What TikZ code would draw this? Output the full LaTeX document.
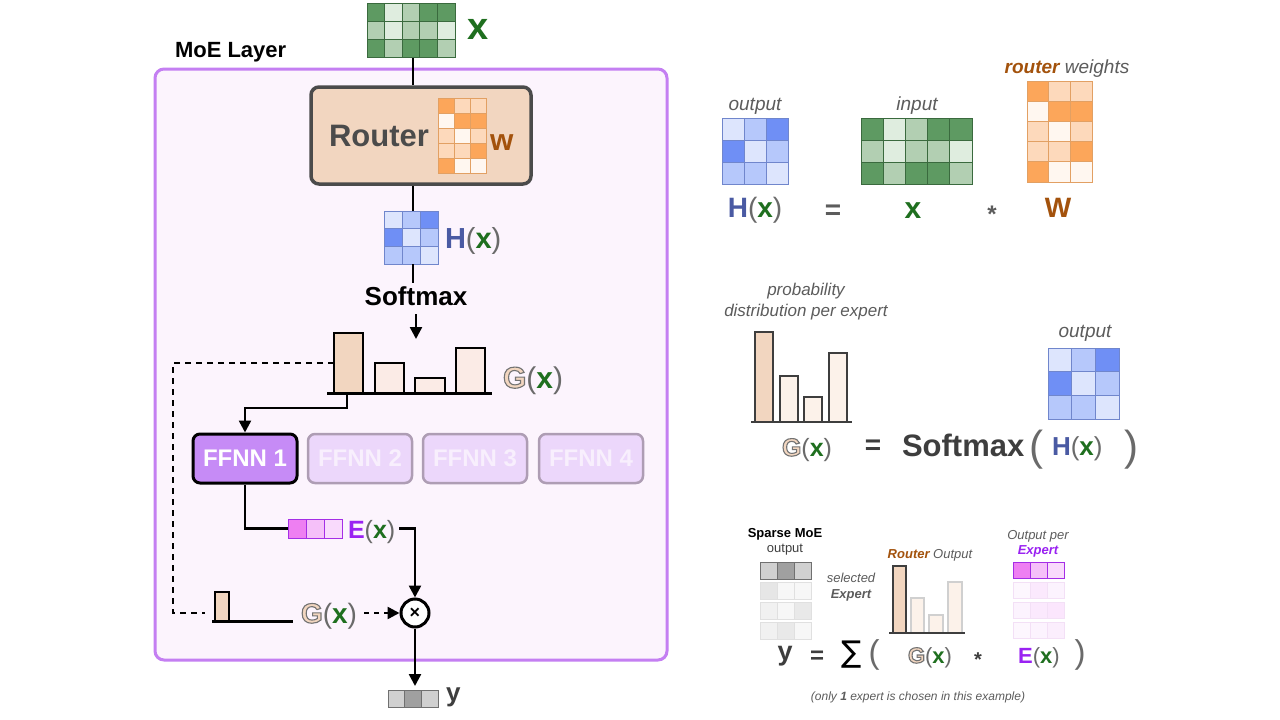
\documentclass[tikz,border=0pt]{standalone}
\usepackage{fontspec}
\setmainfont{Liberation Sans}
\newfontfamily\dejavu{DejaVu Sans}
\usetikzlibrary{arrows.meta}
\definecolor{gD}{HTML}{5E9A62}\definecolor{gM}{HTML}{B2CFB2}\definecolor{gL}{HTML}{DFEDDF}\definecolor{gB}{HTML}{3A6A3E}
\definecolor{oD}{HTML}{FCA65A}\definecolor{oM}{HTML}{FDD9BB}\definecolor{oL}{HTML}{FFF7F0}\definecolor{oB}{HTML}{E2A063}
\definecolor{bD}{HTML}{6F8FF5}\definecolor{bM}{HTML}{B6C8FB}\definecolor{bL}{HTML}{DDE5FD}\definecolor{bB}{HTML}{7086CC}
\definecolor{eD}{HTML}{EE7FF2}\definecolor{eM}{HTML}{F5C0F9}\definecolor{eL}{HTML}{F9DAFC}\definecolor{eB}{HTML}{A52EE6}
\definecolor{e1}{HTML}{FDF7FE}\definecolor{e2}{HTML}{FBE9FD}\definecolor{e3}{HTML}{FCF3FE}\definecolor{e4}{HTML}{FBE6FD}\definecolor{e5}{HTML}{FBEEFD}\definecolor{eF}{HTML}{F3E0F6}
\definecolor{yD}{HTML}{A0A0A0}\definecolor{yM}{HTML}{D0D0D0}\definecolor{yB}{HTML}{707070}
\definecolor{y1}{HTML}{E6E6E6}\definecolor{y2}{HTML}{F7F7F7}\definecolor{y3}{HTML}{F1F1F1}\definecolor{y4}{HTML}{E9E9E9}\definecolor{yF}{HTML}{E0E0E0}
\definecolor{peach}{HTML}{F2D6C0}\definecolor{barL}{HTML}{FBEBE6}\definecolor{barR}{HTML}{FCF2EA}
\definecolor{frameP}{HTML}{C47FF2}\definecolor{frameF}{HTML}{FCF4FD}
\definecolor{ffOn}{HTML}{C68BF6}\definecolor{ffOff}{HTML}{ECD7FB}\definecolor{ffOffB}{HTML}{AE9DB4}\definecolor{ffOffT}{HTML}{F8EFFD}
\definecolor{xgreen}{HTML}{1F6F1F}\definecolor{wbrown}{HTML}{A3520C}\definecolor{hblue}{HTML}{4A5AA3}\definecolor{epurple}{HTML}{9A22F2}
\definecolor{tgray}{HTML}{5C5C5C}\definecolor{pgray}{HTML}{6A6A6A}\definecolor{dgray}{HTML}{3E3E3E}\definecolor{rgray}{HTML}{4B4B4B}
\newcommand\fs[1]{\fontsize{#1}{#1}\selectfont}
\newcommand\gG{\textcolor{peach}{\special{pdf:literal direct 0.45 0.45 0.45 RG 1.1 w 2 Tr}\bfseries G\special{pdf:literal direct 0 Tr}}}
\newcommand\pl{\textcolor{pgray}{(}}
\newcommand\pr{\textcolor{pgray}{)}}
\newcommand\xx{\textcolor{xgreen}{\bfseries x}}
\newcommand\Hx{\textcolor{hblue}{\bfseries H}\pl\xx\pr}
\newcommand\Gx{\gG\pl\xx\pr}
\newcommand\Ex{\textcolor{epurple}{\bfseries E}\pl\xx\pr}
% grid: x, y, cell w, cell h, ncols, border, list
\newcommand\mygrid[7]{%
  \foreach \cc [count=\ii from 0] in {#7} {%
    \pgfmathtruncatemacro\gc{mod(\ii,#5)}%
    \pgfmathtruncatemacro\gr{div(\ii,#5)}%
    \filldraw[fill=\cc, draw=#6, line width=1pt] ({#1+\gc*#3},{#2+\gr*#4}) rectangle ++(#3,#4);
  }}
\begin{document}
\begin{tikzpicture}[x=1pt,y=-1pt,
  conn/.style={line width=2.5pt, draw=black},
  arr/.style={conn, -{Triangle[length=12pt,width=12pt]}},
  mbox/.style={inner sep=0pt, outer sep=0pt, anchor=north west},
  bar/.style={draw=black, line width=2pt, inner sep=0pt, outer sep=0pt, anchor=south west},
  barthin/.style={draw=dgray, line width=1.5pt, inner sep=0pt, outer sep=0pt, anchor=south west},
  lbl/.style={inner sep=0pt, outer sep=0pt},
  ital/.style={lbl, text=tgray, font=\itshape\fs{19}},
  ffon/.style={draw=black, fill=ffOn, line width=3pt, rounded corners=7pt, minimum width=104pt, minimum height=49pt, text=white, font=\bfseries\fs{24}, inner sep=0pt},
  ffoff/.style={draw=ffOffB, fill=ffOff, line width=2.5pt, rounded corners=7pt, minimum width=104pt, minimum height=49pt, text=ffOffT, font=\bfseries\fs{24}, inner sep=0pt}
]
\useasboundingbox (0,0) rectangle (1280,720);
\fill[white] (0,0) rectangle (1280,720);

% ---------- MoE layer frame ----------
\draw[draw=frameP, fill=frameF, line width=3pt, rounded corners=9pt] (155,69) rectangle (667,660);
\node[lbl, anchor=base west, font=\bfseries\fs{22}] (moe) at (175,57) {MoE Layer};

% ---------- input x ----------
\node[mbox, minimum width=88pt, minimum height=54pt] (xm) at (367,3) {};
\node[lbl, anchor=center, text=xgreen, font=\bfseries\fs{38}] (xlab) at (478,29) {x};

% ---------- router ----------
\node[draw=rgray, fill=peach, line width=3.5pt, rounded corners=8pt, minimum width=220pt, minimum height=97pt, inner sep=0pt] (router) at (421,135.5) {};
\draw[conn] (xm.south) ++(2,0) -- (router.north -| 413,0);
\mygrid{367}{3}{17.6}{18}{5}{gB}{gD,gL,gM,gD,gD,gM,gL,gM,gM,gL,gD,gM,gD,gD,gM}
\node[lbl, anchor=base west, text=rgray, font=\bfseries\fs{31}] (routerlab) at (329,146) {Router};
\node[mbox, minimum width=49pt, minimum height=75pt] (wm) at (438,98) {};
\mygrid{438}{98}{16.3}{15}{3}{oB}{oD,oM,oM,oL,oD,oD,oM,oL,oM,oM,oM,oD,oD,oL,oL}
\node[lbl, anchor=base west, text=wbrown, font=\bfseries\fs{30}] (wlab) at (490,150) {w};

% ---------- H(x) ----------
\node[mbox, minimum width=54pt, minimum height=53pt] (hm) at (384,211) {};
\draw[conn] (router.south -| 413,0) -- (hm.north -| 413,0);
\mygrid{384}{211}{18}{17.7}{3}{bB}{bL,bM,bD,bD,bL,bM,bM,bM,bL}
\node[lbl, anchor=base west, font=\fs{29}] (hxlab) at (445,248) {\Hx};
\node[inner sep=3pt, anchor=base, font=\bfseries\fs{26}] (softmax) at (416,305) {Softmax};
\draw[conn] (hm.south -| 413,0) -- (softmax.north -| 413,0);
\coordinate (gtip) at (416,339);
\draw[arr, shorten <=6pt] (softmax.south) -- (gtip);

% ---------- G(x) bars ----------
\node[bar, fill=peach, minimum width=29pt, minimum height=60pt] (b1) at (334,393) {};
\node[bar, fill=barL, minimum width=29pt, minimum height=30pt] (b2) at (375,393) {};
\node[bar, fill=barL, minimum width=30pt, minimum height=15pt] (b3) at (415,393) {};
\node[bar, fill=barL, minimum width=29pt, minimum height=45pt] (b4) at (456,393) {};
\coordinate (gbl) at (327,393); \coordinate (gbr) at (492,393);
\draw[line width=3pt] (gbl) -- (gbr);
\node[lbl, anchor=base west, font=\fs{30}] (gxlab) at (503,388) {\Gx};

% ---------- FFNN ----------
\node[ffon] (f1) at (245,458.5) {FFNN 1};
\node[ffoff] (f2) at (360,458.5) {FFNN 2};
\node[ffoff] (f3) at (475,458.5) {FFNN 3};
\node[ffoff] (f4) at (591,458.5) {FFNN 4};
\draw[arr] (b1.south -| 347,0) -- ++(0,15) -| (f1.north);

% dashed path
\coordinate (dend) at (205,613);
\draw[conn, dash pattern=on 6pt off 5pt] (b1.west) -- (173,363) |- (dend);

% ---------- E(x) ----------
\node[mbox, minimum width=55pt, minimum height=19pt] (em) at (288,519) {};
\draw[conn] (f1.south) |- (em.west);
\mygrid{288}{519}{18.3}{19}{3}{eB}{eD,eM,eL}
\node[lbl, anchor=base west, font=\fs{25}] (exlab) at (348,538) {\Ex};

% ---------- multiply ----------
\node[circle, draw=black, fill=white, line width=3pt, minimum size=28pt, inner sep=0pt, font=\bfseries\fs{18}] (mul) at (415,613) {×};
\draw[arr] (em.west -| exlab.east) ++(4,0) -| (mul.north);

% bottom bar
\node[bar, fill=peach, minimum width=14pt, minimum height=29pt] (sb) at (215,621) {};
\coordinate (sbl) at (212,621); \coordinate (sbr) at (293,621);
\draw[line width=3pt] (sbl) -- (sbr);
\node[lbl, anchor=base west, font=\fs{28}] (gx2) at (301,623) {\Gx};
\draw[conn, dash pattern=on 5pt off 5pt, -{Triangle[length=12pt,width=12pt]}] (364,613) -- (mul.west);

% ---------- output y ----------
\node[mbox, minimum width=50pt, minimum height=17pt] (ym) at (388,690) {};
\draw[arr, shorten >=4pt] (mul.south) -- (ym.north -| mul.south);
\mygrid{388}{690}{16.7}{17}{3}{yB}{yM,yD,yM}
\node[lbl, anchor=base west, text=dgray, font=\bfseries\fs{26}] (ylab) at (446,701) {y};

% ================= RIGHT TOP =================
\node[ital, anchor=base] (out1) at (755,110) {output};
\node[mbox, minimum width=67pt, minimum height=67pt] (rhm) at (722,118) {};
\mygrid{722}{118}{22.3}{22.3}{3}{bB}{bL,bM,bD,bD,bL,bM,bM,bM,bL}
\node[lbl, anchor=base, font=\fs{28}] (rhx) at (755,217) {\Hx};
\node[lbl, anchor=center, text=tgray, font=\bfseries\fs{28}] (eq1) at (833,212) {=};
\node[ital, anchor=base] (in1) at (917,110) {input};
\node[mbox, minimum width=111pt, minimum height=67pt] (rxm) at (861,118) {};
\mygrid{861}{118}{22.2}{22.3}{5}{gB}{gD,gL,gM,gD,gD,gM,gL,gM,gM,gL,gD,gM,gD,gD,gM}
\node[lbl, anchor=base, text=xgreen, font=\bfseries\fs{30}] (rxx) at (913,218) {x};
\node[lbl, anchor=center, text=tgray, font=\bfseries\fs{24}] (ast1) at (992,214) {*};
\node[lbl, anchor=base, font=\fs{19}] (rw) at (1067,73) {\textcolor{wbrown}{\bfseries\itshape router} \textcolor{tgray}{\itshape weights}};
\node[mbox, minimum width=65pt, minimum height=101pt] (rwm) at (1027,81) {};
\mygrid{1027}{81}{21.7}{20.2}{3}{oB}{oD,oM,oM,oL,oD,oD,oM,oL,oM,oM,oM,oD,oD,oL,oL}
\node[lbl, anchor=base, text=wbrown, font=\bfseries\fs{28}] (rwl) at (1058,217) {W};

% ================= RIGHT MIDDLE =================
\node[ital, anchor=base, font=\itshape\fs{17}] (prob) at (806,295) {probability};
\node[ital, anchor=base, font=\itshape\fs{17}] (dist) at (806,316) {distribution per expert};
\node[barthin, fill=peach, minimum width=18pt, minimum height=90pt] (m1) at (755,422) {};
\node[barthin, fill=barR, minimum width=18pt, minimum height=46pt] (m2) at (780,422) {};
\node[barthin, fill=barR, minimum width=18pt, minimum height=25pt] (m3) at (804,422) {};
\node[barthin, fill=barR, minimum width=18pt, minimum height=69pt] (m4) at (829,422) {};
\coordinate (mbl) at (751,422); \coordinate (mbr) at (852,422);
\draw[line width=2pt, dgray] (mbl) -- (mbr);
\node[lbl, anchor=base, font=\fs{25}] (mgx) at (807,456) {\Gx};
\node[lbl, anchor=center, text=dgray, font=\bfseries\fs{28}] (eq2) at (873,447) {=};
\node[lbl, anchor=base west, text=dgray, font=\bfseries\fs{31}] (msm) at (902,456) {Softmax};
\node[lbl, anchor=center, text=pgray, font=\fs{42}] (mpl) at (1036,450) {(};
\node[lbl, anchor=base west, font=\fs{26}] (mhx) at (1052,455) {\Hx};
\node[lbl, anchor=center, text=pgray, font=\fs{42}] (mpr) at (1131,450) {)};
\node[ital, anchor=base] (out2) at (1085,337) {output};
\node[mbox, minimum width=71pt, minimum height=71pt] (mhm) at (1048,348) {};
\mygrid{1048}{348}{23.7}{23.7}{3}{bB}{bL,bM,bD,bD,bL,bM,bM,bM,bL}

% ================= RIGHT BOTTOM =================
\node[lbl, anchor=base, font=\bfseries\fs{13}] (spm) at (785,537) {Sparse MoE};
\node[lbl, anchor=base, text=dgray, font=\fs{13}] (spo) at (785,552) {output};
\node[mbox, minimum width=52pt, minimum height=77pt] (sym) at (760,562) {};
\mygrid{760}{562}{17.3}{17}{3}{yB}{yM,yD,yM}
\mygrid{760}{582}{17.3}{17}{3}{yF}{y1,y2,y2}
\mygrid{760}{602}{17.3}{17}{3}{yF}{y3,y2,y4}
\mygrid{760}{622}{17.3}{17}{3}{yF}{y3,y4,y2}
\node[lbl, anchor=base, text=tgray, font=\itshape\fs{13}] (sel) at (851,582) {selected};
\node[lbl, anchor=base, text=tgray, font=\bfseries\itshape\fs{13}] (sex) at (851,598) {Expert};
\node[lbl, anchor=base, font=\fs{13}] (rout) at (930,558) {\textcolor{wbrown}{\bfseries\itshape Router} \textcolor{tgray}{\itshape Output}};
\node[bar, draw=dgray, line width=1.5pt, fill=peach, minimum width=13pt, minimum height=67pt] (s1) at (893,633) {};
\node[bar, draw=yM, line width=1.5pt, fill=barR, minimum width=13pt, minimum height=35pt] (s2) at (911,633) {};
\node[bar, draw=yM, line width=1.5pt, fill=barR, minimum width=14pt, minimum height=18pt] (s3) at (929,633) {};
\node[bar, draw=yM, line width=1.5pt, fill=barR, minimum width=14pt, minimum height=51pt] (s4) at (948,633) {};
\coordinate (sbl2) at (889,633); \coordinate (sbr2) at (965,633);
\draw[line width=2pt, dgray] (sbl2) -- (sbr2);
\node[lbl, anchor=base, text=tgray, font=\itshape\fs{13}] (opp) at (1038,539) {Output per};
\node[lbl, anchor=base, text=epurple, font=\bfseries\itshape\fs{13}] (ope) at (1038,554) {Expert};
\node[mbox, minimum width=51pt, minimum height=76pt] (sem) at (1013,562) {};
\mygrid{1013}{562}{17}{16.5}{3}{eB}{eD,eM,eL}
\mygrid{1013}{582}{17}{16.5}{3}{eF}{e1,e2,e3}
\mygrid{1013}{602}{17}{16.5}{3}{eF}{e3,e2,e4}
\mygrid{1013}{622}{17}{16.5}{3}{eF}{e1,e3,e5}
\node[lbl, anchor=base, text=dgray, font=\bfseries\fs{27}] (by) at (785,660) {y};
\node[lbl, anchor=center, text=dgray, font=\bfseries\fs{24}] (beq) at (817,657) {=};
\node[lbl, anchor=center, text=black, font=\dejavu\fs{30}] (bsum) at (852,655) {∑};
\node[lbl, anchor=center, text=pgray, font=\fs{33}] (bpl) at (874,655) {(};
\node[lbl, anchor=base, font=\fs{22}] (bgx) at (930,663) {\Gx};
\node[lbl, anchor=center, text=dgray, font=\bfseries\fs{20}] (bast) at (978,660) {*};
\node[lbl, anchor=base, font=\fs{22}] (bex) at (1039,663) {\Ex};
\node[lbl, anchor=center, text=pgray, font=\fs{33}] (bpr) at (1080,655) {)};
\node[lbl, anchor=base, text=tgray, font=\itshape\fs{12}] (note) at (918,700) {(only \textbf{1} expert is chosen in this example)};
\end{tikzpicture}
\end{document}
